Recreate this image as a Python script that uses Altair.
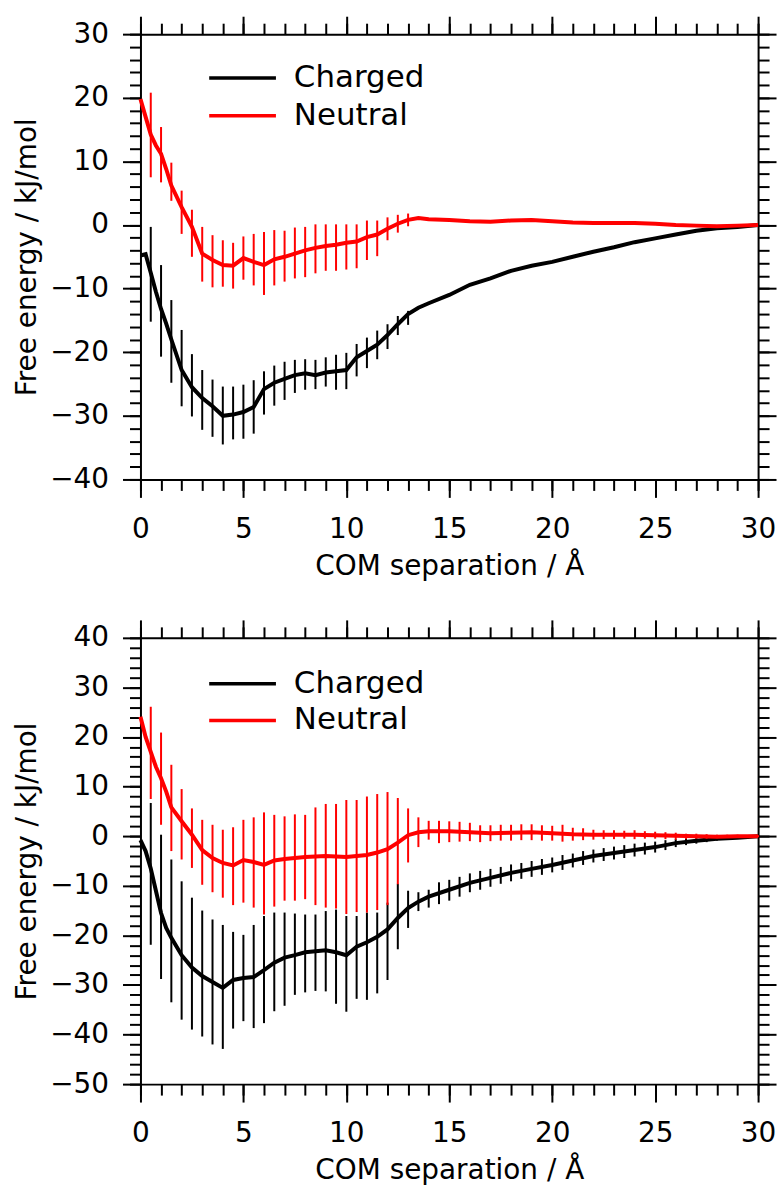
import altair as alt
import pandas as pd

# ---------------- data ----------------
X_GRID = [0, 0.25, 0.5, 0.75, 1.0, 1.25, 1.5, 2.0, 2.5, 3.0, 3.5, 4.0, 4.5, 5.0, 5.5,
          6.0, 6.5, 7.0, 7.5, 8.0, 8.5, 9.0, 9.5, 10.0, 10.5, 11.0, 11.5, 12.0, 12.5,
          13.0, 13.5, 14.0, 15, 16, 17, 18, 19, 20, 21, 22, 23, 24, 25, 26, 27, 28, 29, 30]

TOP_CHARGED = [-4.8, -4.6, -7.5, -10.5, -13.2, -15.5, -18.0, -22.8, -25.5, -27.2, -28.5,
               -30.0, -29.8, -29.4, -28.6, -25.8, -24.8, -24.2, -23.6, -23.3, -23.6, -23.2,
               -23.0, -22.8, -20.8, -19.8, -18.8, -17.3, -15.6, -14.0, -13.0, -12.3, -11.0,
               -9.4, -8.4, -7.2, -6.4, -5.8, -5.0, -4.2, -3.5, -2.7, -2.1, -1.5, -0.9, -0.5,
               -0.3, 0.0]
TOP_NEUTRAL = [19.8, 17.0, 14.2, 12.5, 11.2, 8.8, 6.2, 2.8, -0.3, -4.5, -5.5, -6.3, -6.4,
               -5.2, -5.8, -6.3, -5.4, -5.0, -4.5, -4.0, -3.6, -3.3, -3.1, -2.8, -2.6, -1.9,
               -1.5, -0.6, 0.2, 0.8, 1.1, 0.9, 0.8, 0.6, 0.5, 0.7, 0.8, 0.6, 0.4, 0.3, 0.3,
               0.3, 0.2, 0.0, -0.1, -0.2, -0.1, 0.0]

BOT_CHARGED = [-0.8, -3.0, -6.5, -11.0, -15.5, -18.5, -20.5, -24.0, -26.5, -28.2, -29.4,
               -30.6, -29.0, -28.6, -28.4, -27.0, -25.5, -24.5, -24.0, -23.4, -23.2, -23.0,
               -23.4, -24.0, -22.3, -21.4, -20.3, -18.8, -16.5, -14.5, -13.2, -12.2, -10.8,
               -9.4, -8.4, -7.4, -6.6, -5.8, -4.9, -4.0, -3.4, -2.8, -2.2, -1.4, -0.9, -0.5,
               -0.3, 0.0]
BOT_NEUTRAL = [24.1, 20.0, 17.0, 14.0, 11.7, 9.0, 5.8, 3.0, 0.3, -2.8, -4.4, -5.4, -5.9,
               -4.8, -5.2, -5.8, -4.9, -4.6, -4.4, -4.2, -4.1, -4.0, -4.1, -4.2, -4.0, -3.8,
               -3.3, -2.6, -1.3, 0.2, 0.8, 1.0, 1.0, 0.8, 0.6, 0.7, 0.8, 0.6, 0.4, 0.3, 0.3,
               0.3, 0.2, 0.1, 0.0, -0.1, 0.0, 0.0]

# error bars, top panel (x = 0.5 ... 13.0)
TOP_BAR_X = [0.5, 1.0, 1.5, 2.0, 2.5, 3.0, 3.5, 4.0, 4.5, 5.0, 5.5, 6.0, 6.5, 7.0, 7.5,
             8.0, 8.5, 9.0, 9.5, 10.0, 10.5, 11.0, 11.5, 12.0, 12.5, 13.0]
TOP_CH_LO = [-15.2, -20.7, -24.8, -28.5, -30.1, -32.2, -33.3, -34.5, -33.7, -33.6, -32.8,
             -29.8, -28.4, -27.5, -26.4, -25.9, -25.8, -25.4, -25.9, -25.8, -23.8, -22.5,
             -21.1, -19.5, -17.3, -15.7]
TOP_CH_HI = [-0.3, -6.3, -11.8, -16.5, -20.3, -22.8, -24.3, -25.4, -25.4, -25.1, -24.4,
             -23.0, -22.1, -21.5, -21.2, -21.1, -21.2, -20.8, -20.4, -20.1, -18.7, -17.7,
             -16.6, -15.6, -14.3, -13.5]
TOP_NE_LO = [7.5, 6.7, 3.8, -1.4, -5.0, -8.9, -9.8, -9.7, -10.0, -8.6, -9.5, -11.0, -9.5,
             -8.9, -8.4, -8.2, -7.6, -7.2, -7.2, -7.0, -6.8, -5.5, -4.9, -2.4, -1.2, -0.2]
TOP_NE_HI = [20.8, 15.4, 9.8, 5.4, 2.4, -0.3, -1.6, -2.4, -2.8, -1.8, -1.4, -1.1, -0.8,
             -0.9, -0.4, -0.3, 0.1, 0.1, 0.1, 0.1, 0.1, 0.7, 0.7, 1.2, 1.6, 1.8]

# error bars, bottom panel (x = 0.5 ... 30.0)
BOT_BAR_X = [0.5, 1.0, 1.5, 2.0, 2.5, 3.0, 3.5, 4.0, 4.5, 5.0, 5.5, 6.0, 6.5, 7.0, 7.5,
             8.0, 8.5, 9.0, 9.5, 10.0, 10.5, 11.0, 11.5, 12.0, 12.5, 13.0, 13.5, 14.0,
             14.5, 15.0, 15.5, 16.0, 16.5, 17.0, 17.5, 18.0, 18.5, 19.0, 19.5, 20.0, 20.5,
             21.0, 21.5, 22.0, 22.5, 23.0, 23.5, 24.0, 24.5, 25.0, 25.5, 26.0, 26.5, 27.0,
             27.5, 28.0, 28.5, 29.0, 29.5, 30.0]
BOT_CH_LO = [-21.9, -28.8, -33.5, -37.0, -39.0, -40.4, -42.0, -42.9, -38.8, -37.3, -38.7,
             -37.7, -35.3, -34.2, -32.0, -31.5, -31.2, -31.3, -33.8, -35.4, -32.8, -33.0,
             -31.7, -29.0, -22.8, -18.5, -15.1, -14.4, -13.7, -13.0, -12.2, -11.3, -10.8,
             -10.2, -9.6, -9.1, -8.6, -8.2, -7.8, -7.3, -6.8, -6.3, -5.8, -5.3, -5.0, -4.7,
             -4.4, -4.1, -3.7, -3.3, -2.8, -2.2, -1.8, -1.5, -1.2, -0.9, -0.7, -0.5, -0.3,
             -0.2]
BOT_CH_HI = [6.7, 0.3, -4.7, -9.1, -12.4, -15.0, -16.8, -17.9, -19.3, -19.9, -17.9, -16.1,
             -15.4, -15.4, -15.6, -15.8, -15.8, -15.1, -14.8, -16.1, -16.1, -15.4, -15.4,
             -13.4, -9.6, -11.0, -11.3, -10.8, -9.3, -8.8, -8.2, -7.5, -7.0, -6.6, -6.2,
             -5.7, -5.4, -5.0, -4.6, -4.3, -3.8, -3.5, -3.0, -2.7, -2.4, -2.1, -1.8, -1.5,
             -1.3, -1.1, -0.8, -0.6, -0.5, -0.3, -0.2, -0.1, 0.0, 0.0, 0.1, 0.2]
BOT_NE_LO = [7.5, 2.3, -3.0, -4.7, -6.4, -9.8, -11.3, -12.4, -13.9, -13.4, -14.4, -15.8,
             -14.2, -13.0, -13.0, -12.7, -13.9, -14.4, -14.6, -15.7, -15.3, -15.4, -14.9,
             -13.9, -9.7, -5.3, -2.2, -0.7, -1.4, -1.2, -1.1, -1.0, -1.2, -1.0, -0.9, -0.9,
             -0.8, -0.8, -0.9, -0.9, -1.1, -0.9, -0.8, -0.7, -0.6, -0.6, -0.5, -0.6, -0.5,
             -0.5, -0.6, -0.7, -0.6, -0.5, -0.5, -0.4, -0.3, -0.3, -0.2, -0.2]
BOT_NE_HI = [26.1, 20.9, 14.4, 9.5, 5.6, 3.3, 2.3, 1.3, 1.8, 3.3, 3.8, 4.8, 4.3, 4.0, 4.4,
             4.3, 5.8, 6.5, 6.5, 7.3, 7.3, 8.0, 8.5, 8.9, 7.7, 5.6, 3.8, 3.1, 3.1, 3.0, 2.9,
             2.7, 2.2, 2.2, 2.3, 2.3, 2.4, 2.4, 2.2, 2.1, 2.3, 1.7, 1.6, 1.3, 1.2, 1.2, 1.1,
             1.2, 1.0, 0.9, 0.8, 0.7, 0.5, 0.5, 0.4, 0.3, 0.3, 0.3, 0.2, 0.2]

SERIES = ["Charged", "Neutral"]
COLORS = ["black", "red"]
X_MAJOR = [0, 5, 10, 15, 20, 25, 30]
X_MINOR = list(range(0, 31))

FONT = "DejaVu Sans"
PLOT_W = 620


def panel(line_ch, line_ne, bar_x, ch_lo, ch_hi, ne_lo, ne_hi, ymin, ymax, height, leg_y):
    xs = alt.Scale(domain=[0, 30], nice=False, zero=False)
    ys = alt.Scale(domain=[ymin, ymax], nice=False, zero=False)
    y_major = list(range(ymin, ymax + 1, 10))
    y_minor = list(range(ymin, ymax + 1, 2))
    common = dict(grid=False, domainColor="black", tickColor="black", domainWidth=2,
                  tickWidth=2, labelFlush=False, labelOverlap=False)

    ax_xb_major = alt.Axis(orient="bottom", values=X_MAJOR, tickSize=18, labelFontSize=28,
                           labelFont=FONT, labelColor="black", labelPadding=18,
                           title="COM separation / Å", titleFontSize=28, titleFont=FONT,
                           titleFontWeight="normal", titleColor="black", titlePadding=9,
                           **common)
    ax_xb_minor = alt.Axis(orient="bottom", values=X_MINOR, tickSize=11, labels=False,
                           title=None, domain=False, **common)
    ax_xt_major = alt.Axis(orient="top", values=X_MAJOR, tickSize=18, labels=False,
                           title=None, **common)
    ax_xt_minor = alt.Axis(orient="top", values=X_MINOR, tickSize=11, labels=False,
                           title=None, domain=False, **common)
    ax_yl_major = alt.Axis(orient="left", values=y_major, tickSize=18, labelFontSize=28,
                           labelFont=FONT, labelColor="black", labelPadding=14,
                           format="d",
                           title="Free energy / kJ/mol", titleFontSize=28, titleFont=FONT,
                           titleFontWeight="normal", titleColor="black", titlePadding=8,
                           **common)
    ax_yl_minor = alt.Axis(orient="left", values=y_minor, tickSize=11, labels=False,
                           title=None, domain=False, **common)
    ax_yr_major = alt.Axis(orient="right", values=y_major, tickSize=18, labels=False,
                           title=None, **common)
    ax_yr_minor = alt.Axis(orient="right", values=y_minor, tickSize=11, labels=False,
                           title=None, domain=False, **common)

    df_ch = pd.DataFrame({"x": X_GRID, "y": line_ch, "series": SERIES[0]})
    df_ne = pd.DataFrame({"x": X_GRID, "y": line_ne, "series": SERIES[1]})
    df_bch = pd.DataFrame({"x": bar_x, "lo": ch_lo, "hi": ch_hi})
    df_bne = pd.DataFrame({"x": bar_x, "lo": ne_lo, "hi": ne_hi})

    def leg(i):
        return alt.Legend(orient="none", legendX=67, legendY=leg_y[i], title=None,
                          symbolType="stroke", symbolSize=4489, symbolStrokeWidth=3.5,
                          labelFontSize=31, labelFont=FONT, labelColor="black",
                          labelOffset=16, padding=0)

    bars_ch = alt.Chart(df_bch).mark_rule(strokeWidth=2, color=COLORS[0]).encode(
        x=alt.X("x:Q", scale=xs, axis=ax_xb_minor),
        y=alt.Y("lo:Q", scale=ys, axis=ax_yl_minor),
        y2="hi:Q",
    )
    line_ch_m = alt.Chart(df_ch).mark_line(strokeWidth=4).encode(
        x=alt.X("x:Q", scale=xs, axis=ax_xb_major),
        y=alt.Y("y:Q", scale=ys, axis=ax_yl_major),
        color=alt.Color("series:N", scale=alt.Scale(domain=[SERIES[0]], range=[COLORS[0]]),
                        legend=leg(0)),
    )
    bars_ne = alt.Chart(df_bne).mark_rule(strokeWidth=2, color=COLORS[1]).encode(
        x=alt.X("x:Q", scale=xs, axis=ax_xt_minor),
        y=alt.Y("lo:Q", scale=ys, axis=ax_yr_minor),
        y2="hi:Q",
    )
    line_ne_m = alt.Chart(df_ne).mark_line(strokeWidth=4).encode(
        x=alt.X("x:Q", scale=xs, axis=ax_xt_major),
        y=alt.Y("y:Q", scale=ys, axis=ax_yr_major),
        color=alt.Color("series:N", scale=alt.Scale(domain=[SERIES[1]], range=[COLORS[1]]),
                        legend=leg(1)),
    )
    return alt.layer(bars_ch, line_ch_m, bars_ne, line_ne_m).resolve_axis(
        x="independent", y="independent"
    ).resolve_scale(color="independent").properties(width=PLOT_W, height=height)


top = panel(TOP_CHARGED, TOP_NEUTRAL, TOP_BAR_X, TOP_CH_LO, TOP_CH_HI, TOP_NE_LO,
            TOP_NE_HI, -40, 30, 447, [8.5, 46.5])
bottom = panel(BOT_CHARGED, BOT_NEUTRAL, BOT_BAR_X, BOT_CH_LO, BOT_CH_HI, BOT_NE_LO,
               BOT_NE_HI, -50, 40, 448, [10.5, 47.5])

chart = alt.vconcat(top, bottom, spacing=159, bounds="flush").properties(
    padding={"left": 13, "top": 12, "right": 3, "bottom": 3},
    background="white",
).configure_view(stroke=None).configure(font=FONT)

chart.save("out.html", embed_options={"renderer": "svg", "actions": False})
